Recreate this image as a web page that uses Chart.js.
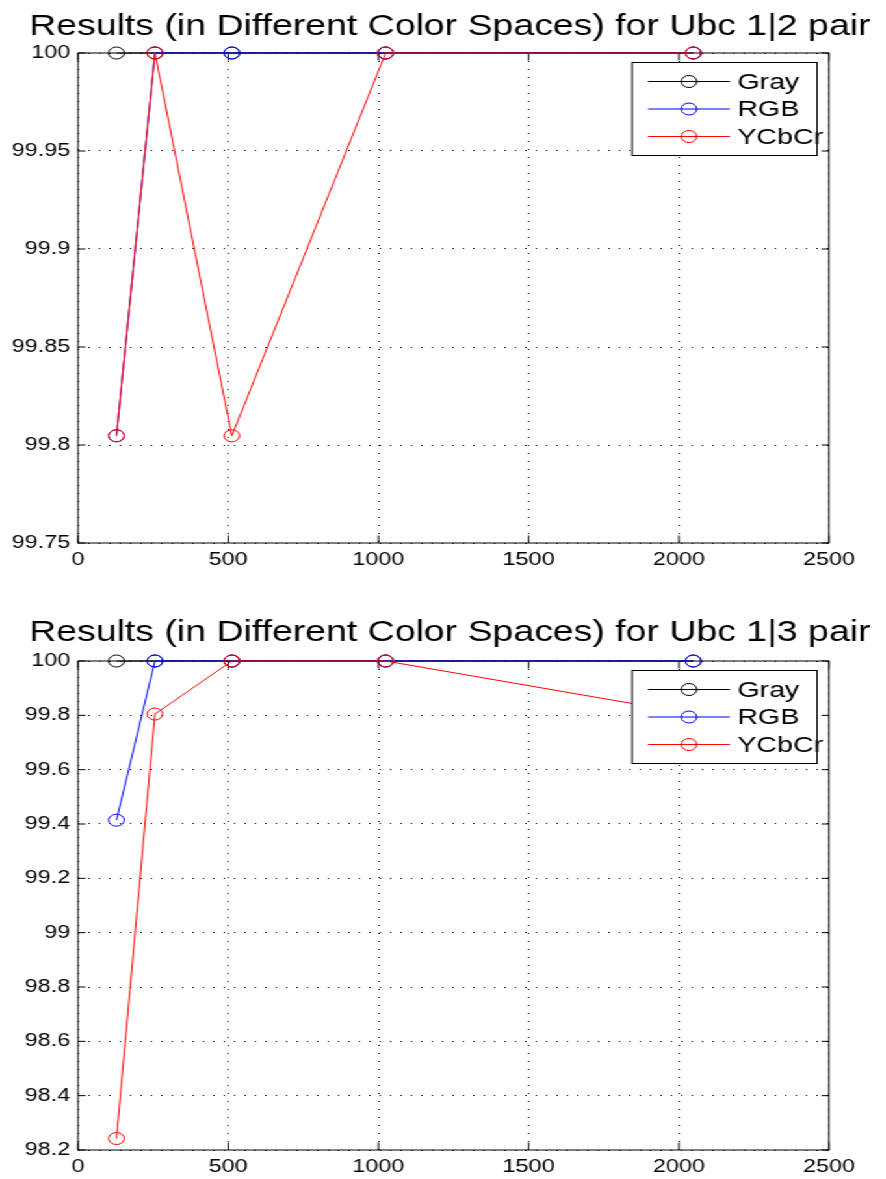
<!DOCTYPE html>
<html>
<head>
<meta charset="utf-8">
<title>Results in Different Color Spaces</title>
<script src="https://cdn.jsdelivr.net/npm/chart.js@4.4.1/dist/chart.umd.min.js"></script>
<style>
    html, body { margin: 0; padding: 0; background: #fff; overflow: hidden; }
    /* the original figure is stretched sideways, so the charts are too */
    #wrap { width: 681px; transform: scaleX(1.3); transform-origin: 0 0; }
    canvas { display: block; }
</style>
</head>
<body>
<div id="wrap">
    <canvas id="chart12" width="681" height="590"></canvas>
    <canvas id="chart13" width="681" height="589"></canvas>
</div>
<script>
const blockSizes = [128, 256, 512, 1024, 2048];
const seriesNames = ["Gray", "RGB", "YCbCr"];
const seriesColors = ["#000000", "#0000ff", "#ff0000"];

// Ubc 1|2 pair
const gray12 = [100, 100, 100, 100, 100];
const rgb12 = [99.8047, 100, 100, 100, 100];
const ycbcr12 = [99.8047, 100, 99.8047, 100, 100];

// Ubc 1|3 pair
const gray13 = [100, 100, 100, 100, 100];
const rgb13 = [99.4141, 100, 100, 100, 100];
const ycbcr13 = [98.2422, 99.8047, 100, 100, 99.8047];

const xTicks = [0, 500, 1000, 1500, 2000, 2500];
const xLabels = ["0", "500", "1000", "1500", "2000", "2500"];
const yTicks12 = [99.75, 99.8, 99.85, 99.9, 99.95, 100];
const yLabels12 = ["99.75", "99.8", "99.85", "99.9", "99.95", "100"];
const yTicks13 = [98.2, 98.4, 98.6, 98.8, 99, 99.2, 99.4, 99.6, 99.8, 100];
const yLabels13 = ["98.2", "98.4", "98.6", "98.8", "99", "99.2", "99.4", "99.6", "99.8", "100"];

const fontFamily = '"Liberation Sans", Arial, Helvetica, sans-serif';
Chart.defaults.font.family = fontFamily;
Chart.defaults.color = "#000";

// title drawn by hand so it can run wider than the plot
const titlePlugin = {
    id: "plotTitle",
    beforeDraw(chart, args, opts) {
        const ctx = chart.ctx;
        ctx.save();
        ctx.fillStyle = "#000";
        ctx.font = "28.8px " + fontFamily;
        ctx.textAlign = "left";
        ctx.textBaseline = "alphabetic";
        ctx.fillText(opts.text, 22.5, opts.baseline);
        ctx.restore();
    },
};

// matlab style box with inward ticks, drawn under the data
const boxPlugin = {
    id: "matlabBox",
    beforeDatasetsDraw(chart) {
        const { ctx, chartArea: a, scales } = chart;
        ctx.save();
        ctx.strokeStyle = "#000";
        ctx.lineWidth = 1;
        ctx.setLineDash([]);
        ctx.strokeRect(a.left, a.top, a.right - a.left, a.bottom - a.top);
        ctx.beginPath();
        for (let t of scales.x.ticks) {
            const px = scales.x.getPixelForValue(t.value);
            ctx.moveTo(px, a.bottom);
            ctx.lineTo(px, a.bottom - 7.5);
            ctx.moveTo(px, a.top);
            ctx.lineTo(px, a.top + 7.5);
        }
        for (let t of scales.y.ticks) {
            const py = scales.y.getPixelForValue(t.value);
            ctx.moveTo(a.left, py);
            ctx.lineTo(a.left + 5.8, py);
            ctx.moveTo(a.right, py);
            ctx.lineTo(a.right - 5.8, py);
        }
        ctx.stroke();
        ctx.restore();
    },
};

// opaque legend box in the top right corner, drawn over the data
const legendPlugin = {
    id: "matlabLegend",
    afterDatasetsDraw(chart) {
        const { ctx, chartArea: a } = chart;
        const w = 142.3;
        const h = 93;
        const left = a.right - 9.2 - w;
        const top = a.top + 9.5;
        ctx.save();
        ctx.fillStyle = "#fff";
        ctx.fillRect(left, top, w, h);
        ctx.strokeStyle = "#000";
        ctx.lineWidth = 1;
        ctx.strokeRect(left, top, w, h);
        chart.data.datasets.forEach((ds, i) => {
            const y = top + 19 + i * 27.5;
            ctx.strokeStyle = ds.borderColor;
            ctx.beginPath();
            ctx.moveTo(left + 12.3, y);
            ctx.lineTo(left + 75.3, y);
            ctx.stroke();
            ctx.beginPath();
            ctx.arc(left + 43.8, y, 6, 0, Math.PI * 2);
            ctx.stroke();
            ctx.fillStyle = "#000";
            ctx.font = "22px " + fontFamily;
            ctx.textBaseline = "middle";
            ctx.textAlign = "left";
            ctx.fillText(ds.label, left + 81, y + 1);
        });
        ctx.restore();
    },
};

function makeChart(id, title, series, yTicks, yLabels, layout) {
    const datasets = series.map((vals, i) => ({
        label: seriesNames[i],
        data: blockSizes.map((x, j) => ({ x: x, y: vals[j] })),
        borderColor: seriesColors[i],
        backgroundColor: "transparent",
        pointBorderColor: seriesColors[i],
        pointBackgroundColor: "transparent",
        borderWidth: 1,
        pointBorderWidth: 1,
        pointRadius: 6,
        pointStyle: "circle",
        tension: 0,
        fill: false,
        clip: false,
        order: series.length - i,
    }));

    return new Chart(id, {
        type: "line",
        data: { datasets: datasets },
        options: {
            responsive: false,
            animation: false,
            devicePixelRatio: 1,
            layout: {
                autoPadding: false,
                padding: { left: 5, right: 43.3, top: layout.top, bottom: 0 },
            },
            plugins: {
                legend: { display: false },
                tooltip: { enabled: false },
                title: { display: false },
                plotTitle: { text: title, baseline: layout.titleBaseline },
            },
            scales: {
                x: {
                    type: "linear",
                    min: xTicks[0],
                    max: xTicks[xTicks.length - 1],
                    afterBuildTicks: (axis) => {
                        axis.ticks = xTicks.map((v) => ({ value: v }));
                    },
                    afterFit: (axis) => {
                        axis.height = layout.xHeight;
                        axis.paddingLeft = 0;
                        axis.paddingRight = 0;
                    },
                    grid: { color: "#000", lineWidth: 1, drawTicks: false },
                    border: { display: false, dash: [1, 7] },
                    ticks: {
                        maxRotation: 0,
                        padding: 6,
                        font: { size: 18 },
                        callback: (value, index) => xLabels[index],
                    },
                },
                y: {
                    type: "linear",
                    min: yTicks[0],
                    max: yTicks[yTicks.length - 1],
                    afterBuildTicks: (axis) => {
                        axis.ticks = yTicks.map((v) => ({ value: v }));
                    },
                    afterFit: (axis) => {
                        axis.width = 55;
                        axis.paddingTop = 0;
                        axis.paddingBottom = 0;
                    },
                    grid: { color: "#000", lineWidth: 1, drawTicks: false },
                    border: { display: false, dash: [1, 7] },
                    ticks: {
                        padding: 6,
                        font: { size: 18 },
                        callback: (value, index) => yLabels[index],
                    },
                },
            },
        },
        plugins: [titlePlugin, boxPlugin, legendPlugin],
    });
}

makeChart(
    "chart12",
    "Results (in Different Color Spaces) for Ubc 1|2 pair",
    [gray12, rgb12, ycbcr12],
    yTicks12,
    yLabels12,
    { top: 53, titleBaseline: 35, xHeight: 47 }
);

makeChart(
    "chart13",
    "Results (in Different Color Spaces) for Ubc 1|3 pair",
    [gray13, rgb13, ycbcr13],
    yTicks13,
    yLabels13,
    { top: 71, titleBaseline: 50.7, xHeight: 29 }
);
</script>
</body>
</html>
